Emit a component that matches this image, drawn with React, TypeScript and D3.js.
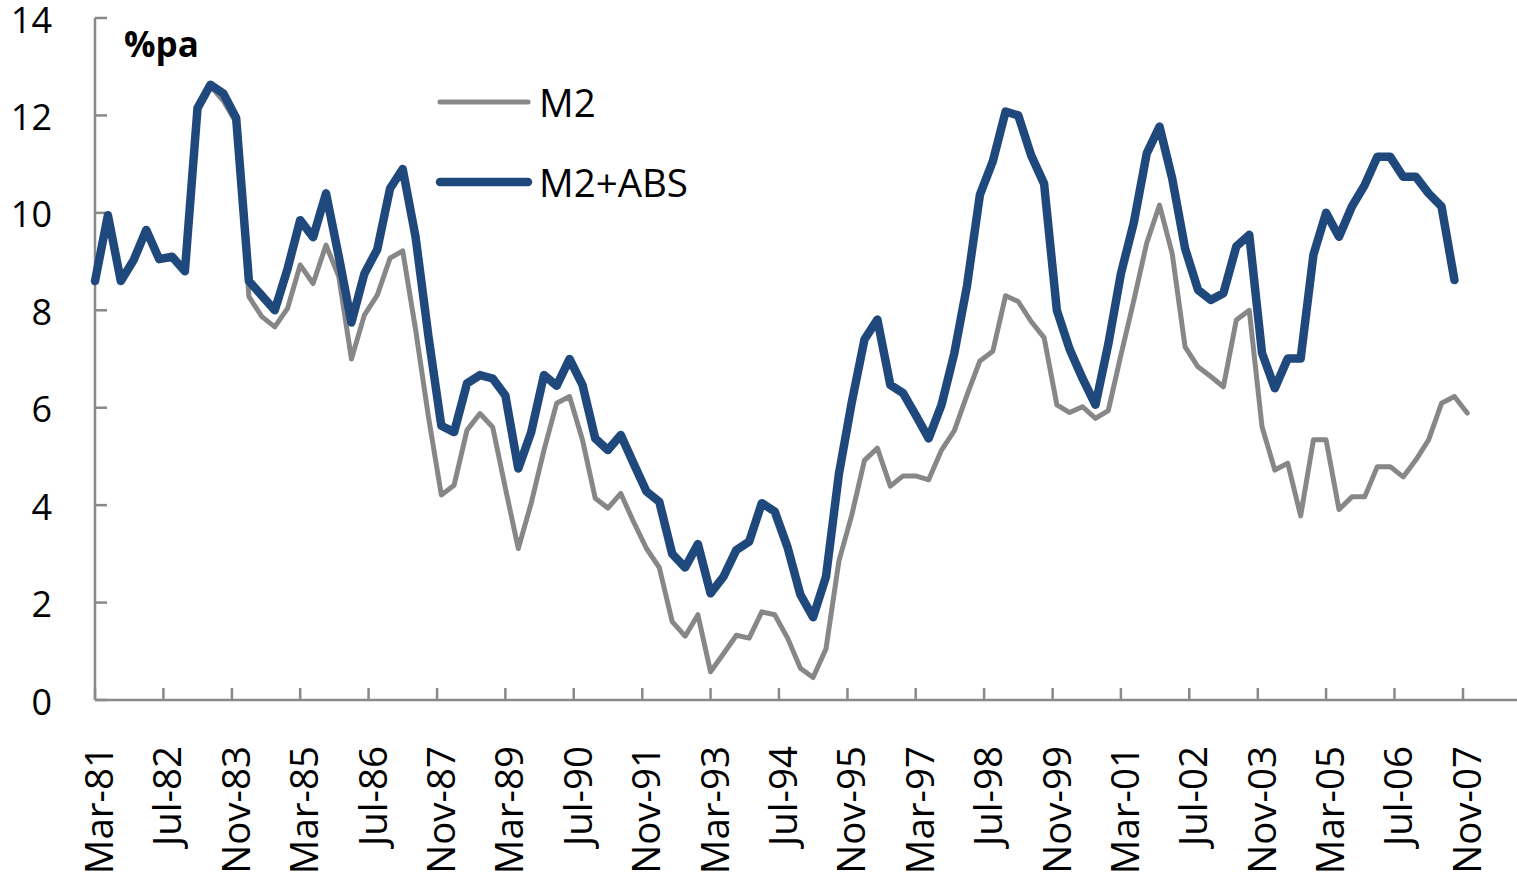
import React from "react";
import * as d3 from "d3";

// Quarterly observations starting Mar-81
const startQuarter = new Date(1981, 2, 1);

// M2 growth, %pa (Mar-81 .. Dec-07)
const m2: number[] = [
  8.6, 9.95, 8.6, 9.03, 9.65, 9.05, 9.1, 8.8, 12.15, 12.6, 12.3, 11.85,
  8.28, 7.87, 7.66, 8.04, 8.93, 8.55, 9.34, 8.69, 7.0, 7.9, 8.31, 9.07,
  9.22, 7.6, 5.8, 4.21, 4.41, 5.54, 5.88, 5.6, 4.35, 3.11, 4.04, 5.13,
  6.09, 6.23, 5.34, 4.14, 3.94, 4.24, 3.65, 3.11, 2.72, 1.61, 1.31, 1.75,
  0.58, 0.95, 1.33, 1.27, 1.81, 1.75, 1.27, 0.65, 0.46, 1.05, 2.85, 3.79,
  4.92, 5.17, 4.39, 4.6, 4.6, 4.52, 5.13, 5.53, 6.26, 6.96, 7.16, 8.3,
  8.18, 7.77, 7.44, 6.06, 5.9, 6.02, 5.78, 5.94, 7.08, 8.2, 9.38, 10.16,
  9.17, 7.25, 6.84, 6.64, 6.43, 7.8, 8.0, 5.61, 4.72, 4.86, 3.78, 5.34,
  5.34, 3.91, 4.17, 4.17, 4.79, 4.79, 4.58, 4.93, 5.34, 6.09, 6.23, 5.89,
];

// M2 + ABS growth, %pa (Mar-81 .. Sep-07)
const m2abs: number[] = [
  8.6, 9.95, 8.6, 9.03, 9.65, 9.05, 9.1, 8.8, 12.15, 12.63, 12.45, 11.95,
  8.6, 8.3, 8.0, 8.85, 9.85, 9.5, 10.4, 9.1, 7.75, 8.75, 9.25, 10.5,
  10.9, 9.5, 7.45, 5.63, 5.5, 6.5, 6.67, 6.6, 6.25, 4.75, 5.5, 6.67,
  6.45, 7.0, 6.47, 5.37, 5.13, 5.44, 4.85, 4.28, 4.07, 3.0, 2.72, 3.2,
  2.19, 2.53, 3.08, 3.25, 4.04, 3.87, 3.13, 2.16, 1.7, 2.53, 4.64, 6.1,
  7.4, 7.81, 6.47, 6.3, 5.85, 5.37, 6.06, 7.12, 8.5, 10.37, 11.06, 12.08,
  12.0, 11.18, 10.6, 8.0, 7.2, 6.6, 6.06, 7.3, 8.75, 9.8, 11.22, 11.77,
  10.71, 9.27, 8.42, 8.21, 8.35, 9.31, 9.55, 7.12, 6.4, 7.01, 7.01, 9.14,
  10.0, 9.51, 10.13, 10.57, 11.15, 11.15, 10.74, 10.74, 10.4, 10.13, 8.62,
];

// x-axis tick labels (every 16 months)
const tickLabels: string[] = [
  "Mar-81", "Jul-82", "Nov-83", "Mar-85", "Jul-86", "Nov-87", "Mar-89",
  "Jul-90", "Nov-91", "Mar-93", "Jul-94", "Nov-95", "Mar-97", "Jul-98",
  "Nov-99", "Mar-01", "Jul-02", "Nov-03", "Mar-05", "Jul-06", "Nov-07",
];

const yTicks: number[] = [0, 2, 4, 6, 8, 10, 12, 14];

const seriesNames = ["M2", "M2+ABS"];

const W = 1517;
const H = 880;
const FONT = "'Open Sans', 'Liberation Sans', sans-serif";
const AXIS = "#898989";
const GRAY = "#878787";
const BLUE = "#1f497d";

export default function App() {
  const parse = d3.timeParse("%b-%y");
  const x = d3
    .scaleTime()
    .domain([startQuarter, parse("Nov-07") as Date])
    .range([95, 1463]);
  const y = d3.scaleLinear().domain([0, 14]).range([700, 18]);

  const dateOf = (i: number) => d3.timeMonth.offset(startQuarter, 3 * i);

  const line = d3
    .line<number>()
    .x((_, i) => x(dateOf(i)))
    .y((d) => y(d));

  const tickDates = tickLabels.map((l) => parse(l) as Date);

  return (
    <svg
      width={W}
      height={H}
      style={{ position: "absolute", left: 0, top: 0, display: "block", background: "#fff" }}
    >
      {/* axes */}
      <line x1={95} x2={95} y1={y(14)} y2={y(0)} stroke={AXIS} strokeWidth={2.5} />
      <line x1={95} x2={W} y1={y(0)} y2={y(0)} stroke={AXIS} strokeWidth={2.5} />
      {yTicks.map((t) => (
        <g key={"y" + t}>
          <line x1={95} x2={107} y1={y(t)} y2={y(t)} stroke={AXIS} strokeWidth={2.5} />
          <text
            x={52}
            y={y(t) + 1}
            textAnchor="end"
            dominantBaseline="central"
            fontFamily={FONT}
            fontSize={36}
            fill="#000"
          >
            {t}
          </text>
        </g>
      ))}
      {tickDates.map((d, i) => (
        <g key={"x" + i}>
          <line x1={x(d)} x2={x(d)} y1={y(0)} y2={y(0) - 12} stroke={AXIS} strokeWidth={2.5} />
          <text
            transform={`translate(${x(d) + 3},746) rotate(-90)`}
            textAnchor="end"
            dominantBaseline="central"
            fontFamily={FONT}
            fontSize={38.5}
            fill="#000"
          >
            {tickLabels[i]}
          </text>
        </g>
      ))}

      {/* unit label */}
      <text x={124} y={57} fontFamily={FONT} fontSize={35} fontWeight="bold" fill="#000">
        %pa
      </text>

      {/* series */}
      <path
        d={line(m2) || ""}
        fill="none"
        stroke={GRAY}
        strokeWidth={5}
        strokeLinejoin="round"
        strokeLinecap="round"
      />
      <path
        d={line(m2abs) || ""}
        fill="none"
        stroke={BLUE}
        strokeWidth={8.5}
        strokeLinejoin="round"
        strokeLinecap="round"
      />

      {/* legend */}
      <line x1={440} x2={528} y1={102} y2={102} stroke={GRAY} strokeWidth={5} strokeLinecap="round" />
      <text x={539} y={102} dominantBaseline="central" fontFamily={FONT} fontSize={38.5} fill="#000">
        {seriesNames[0]}
      </text>
      <line x1={440} x2={528} y1={182} y2={182} stroke={BLUE} strokeWidth={8.5} strokeLinecap="round" />
      <text x={539} y={182} dominantBaseline="central" fontFamily={FONT} fontSize={38.5} fill="#000">
        {seriesNames[1]}
      </text>
    </svg>
  );
}
